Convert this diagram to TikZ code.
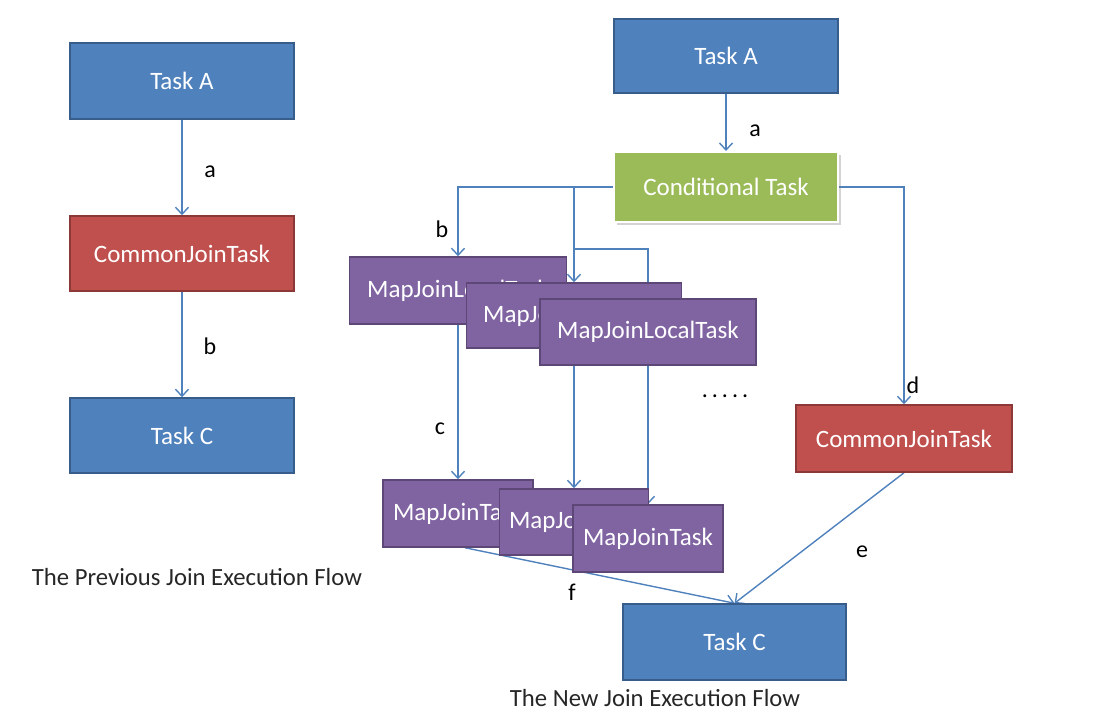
\documentclass[tikz,border=0pt]{standalone}
\usepackage{fontspec}
\setmainfont{Carlito}
\usetikzlibrary{arrows.meta,shadows}
\definecolor{tblue}{HTML}{4F81BD}
\definecolor{tblueb}{HTML}{385D8A}
\definecolor{tred}{HTML}{C0504D}
\definecolor{tredb}{HTML}{8C3836}
\definecolor{tgreen}{HTML}{9BBB59}
\definecolor{tpurple}{HTML}{8064A2}
\definecolor{tpurpleb}{HTML}{5C4776}
\definecolor{tarrow}{HTML}{4F81BD}
\pgfdeclarelayer{background}
\pgfsetlayers{background,main}
\tikzset{
  box/.style={draw, line width=1.5pt, inner sep=0pt, text=white,
    font=\fontsize{25}{30}\selectfont},
  bluebox/.style={box, fill=tblue, draw=tblueb},
  redbox/.style={box, fill=tred, draw=tredb},
  purplebox/.style={box, fill=tpurple, draw=tpurpleb},
  greenbox/.style={box, fill=tgreen, draw=white, line width=2pt,
    drop shadow={shadow xshift=3pt, shadow yshift=-3pt, opacity=0.35}},
  conn/.style={draw=tarrow, line width=1.4pt, -{Straight Barb[length=7pt,width=13pt]}},
  lbl/.style={font=\fontsize{24}{28}\selectfont, text=black},
  captext/.style={font=\fontsize{24.7}{29}\selectfont, text=black!85}
}
\begin{document}
\begin{tikzpicture}[x=1pt,y=-1pt]
\useasboundingbox (0,0) rectangle (1118,722);

% left flow
\node[bluebox, minimum width=224pt, minimum height=76pt] (lA) at (182,81) {Task A};
\node[redbox, minimum width=224pt, minimum height=75pt] (lCJ) at (182,253.5) {CommonJoinTask};
\node[bluebox, minimum width=224pt, minimum height=75pt] (lC) at (182,435.5) {Task C};
\node[lbl] (la) at (210,172) {a};
\node[lbl] (lb) at (210,346) {b};
\node[captext] (lcap) at (197,577) {The Previous Join Execution Flow};

% right flow
\node[bluebox, minimum width=224pt, minimum height=74pt] (rA) at (726,56) {Task A};
\node[greenbox, minimum width=224pt, minimum height=70pt] (cond) at (726,187) {Conditional Task};
\node[purplebox, minimum width=217pt, minimum height=67pt] (ml1) at (458,290.5) {MapJoinLocalTask};
\node[purplebox, minimum width=215pt, minimum height=65pt] (ml2) at (574,315.5) {MapJoinLocalTask};
\node[purplebox, minimum width=216pt, minimum height=66pt] (ml3) at (648,332) {MapJoinLocalTask};
\node[purplebox, minimum width=150pt, minimum height=67pt] (mj1) at (458,513.5) {MapJoinTask};
\node[purplebox, minimum width=149pt, minimum height=66pt] (mj2) at (574,522) {MapJoinTask};
\node[purplebox, minimum width=150pt, minimum height=67pt] (mj3) at (648,538.5) {MapJoinTask};
\node[redbox, minimum width=216pt, minimum height=67pt] (rCJ) at (904,438.5) {CommonJoinTask};
\node[bluebox, minimum width=223pt, minimum height=76pt] (rC) at (734.5,642) {Task C};

\node[lbl] (ra) at (755,131) {a};
\node[lbl] (rb) at (442,229) {b};
\node[lbl] (rc) at (440,429) {c};
\node[lbl] (rd) at (913,385) {d};
\node[lbl] (re) at (862,552) {e};
\node[lbl] (rf) at (572,592) {f};
\node[lbl] (dots) at (725,396) {.\,.\,.\,.\,.};
\node[captext] (rcap) at (655,698) {The New Join Execution Flow};

\coordinate (split) at (574,249);

\begin{pgfonlayer}{background}
\draw[conn] (lA.south) -- (lCJ.north);
\draw[conn] (lCJ.south) -- (lC.north);
\draw[conn] (rA.south) -- (cond.north);
\draw[conn] (cond.west) -| (ml1.north);
\draw[conn] (cond.west -| ml2.north) -- (ml2.north);
\draw[conn] (split) -| (ml3.north);
\draw[conn] (cond.east) -| (rCJ.north);
\draw[conn] (ml1.south) -- (mj1.north);
\draw[conn] (ml2.south) -- (mj2.north);
\draw[conn] (ml3.south) -- (mj3.north);
\draw[conn] ([xshift=7pt]mj1.south) -- (rC.north);
\draw[conn] (rCJ.south) -- (rC.north);
\end{pgfonlayer}
\end{tikzpicture}
\end{document}
